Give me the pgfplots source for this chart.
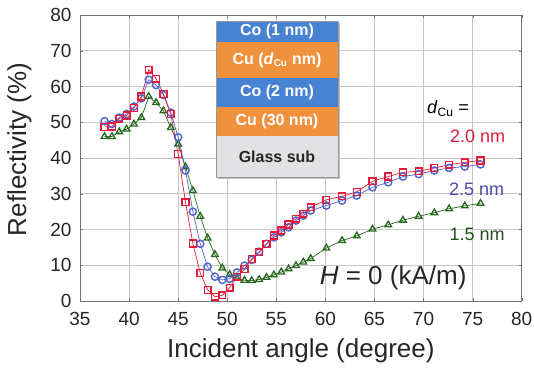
\documentclass[border=0pt]{standalone}
\usepackage{pgfplots}
\pgfplotsset{compat=1.18}
\usepackage{fontspec}
\setmainfont{Liberation Sans}
\definecolor{cred}{RGB}{228,28,58}
\definecolor{cblue}{RGB}{78,98,205}
\definecolor{cgreen}{RGB}{38,105,30}
\definecolor{tred}{RGB}{220,30,60}
\definecolor{tblue}{RGB}{80,72,170}
\definecolor{tgreen}{RGB}{35,80,30}
\definecolor{cob}{RGB}{72,130,210}
\definecolor{cuo}{RGB}{240,145,62}
\definecolor{glass}{RGB}{226,226,229}
\pgfplotstableread{
a R
37.5 48.7
38.25 48.8
39 51.0
39.75 51.9
40.5 54.0
41.25 57.2
42 64.7
42.75 62.2
43.5 57.9
44.25 52.3
45 41.1
45.75 27.6
46.5 16.1
47.25 7.8
48 3.1
48.75 1.2
49.5 1.6
50.25 3.7
51 6.8
51.75 8.9
52.5 11.8
53.25 13.6
54 16.0
54.75 18.3
55.5 19.7
56.25 21.4
57 23.0
57.75 24.4
58.5 26.2
60.1 28.3
61.7 29.3
63.2 30.5
64.8 33.5
66.4 34.8
67.9 36.0
69.5 36.3
71.1 37.2
72.6 38.1
74.2 38.8
75.8 39.3
}\tabred
\pgfplotstableread{
a R
37.5 50.3
38.25 49.5
39 51.3
39.75 52.3
40.5 54.4
41.25 56.7
42 61.9
42.75 60.4
43.5 57.6
44.25 52.7
45 45.8
45.75 36.5
46.5 25.0
47.25 16.0
48 9.6
48.75 6.8
49.5 5.9
50.25 6.2
51 8.0
51.75 9.9
52.5 11.5
53.25 13.8
54 16.0
54.75 17.8
55.5 19.2
56.25 20.6
57 22.5
57.75 23.9
58.5 25.3
60.1 26.7
61.7 28.1
63.2 29.5
64.8 31.8
66.4 33.2
67.9 34.8
69.5 35.5
71.1 36.5
72.6 37.2
74.2 37.6
75.8 38.2
}\tabblue
\pgfplotstableread{
a R
37.5 46.0
38.25 46.0
39 47.3
39.75 48.1
40.5 49.5
41.25 51.3
42 57.2
42.75 55.5
43.5 53.2
44.25 48.5
45 43.9
45.75 37.5
46.5 30.9
47.25 23.7
48 17.6
48.75 13.0
49.5 9.2
50.25 7.4
51 6.4
51.75 5.8
52.5 5.7
53.25 6.0
54 6.6
54.75 7.3
55.5 8.1
56.25 9.0
57 9.9
57.75 10.9
58.5 11.9
60.1 14.8
61.7 16.9
63.2 18.2
64.8 20.1
66.4 21.3
67.9 22.6
69.5 23.7
71.1 24.7
72.6 25.8
74.2 26.6
75.8 27.3
}\tabgreen
\begin{document}
\begin{tikzpicture}
\useasboundingbox (-80pt,-72pt) rectangle (454pt,301pt);
\begin{axis}[
  at={(0,0)}, anchor=south west,
  scale only axis, width=441.7pt, height=286pt,
  xmin=35, xmax=80, ymin=0, ymax=80,
  xtick={35,40,...,80}, ytick={0,10,...,80},
  grid=major,
  major grid style={draw=black!22, line width=0.6pt},
  axis line style={draw=black!55, line width=0.8pt},
  tick style={draw=black!55},
  tick align=inside, major tick length=3pt,
  /pgf/number format/assume math mode=true,
  ticklabel style={font=\fontsize{19}{22}\selectfont, text=black!85},
  xticklabel style={yshift=-8pt},
  yticklabel style={xshift=-5pt},
  clip=false,
]
% layer stack
\fill[black!25] (axis cs:49.06,34.2) rectangle (axis cs:61.49,77.8);
\fill[cob] (axis cs:48.86,72.4) rectangle (axis cs:61.29,78.3);
\fill[cuo] (axis cs:48.86,62.4) rectangle (axis cs:61.29,72.4);
\fill[cob] (axis cs:48.86,54.3) rectangle (axis cs:61.29,62.4);
\fill[cuo] (axis cs:48.86,46.2) rectangle (axis cs:61.29,54.3);
\fill[glass] (axis cs:48.86,34.7) rectangle (axis cs:61.29,46.2);
\draw[black!40, line width=0.8pt] (axis cs:48.86,34.7) rectangle (axis cs:61.29,78.3);
\node[white, font=\bfseries\fontsize{16}{18}\selectfont] at (axis cs:55.07,75.35) {Co (1 nm)};
\node[white, font=\bfseries\fontsize{16}{18}\selectfont] at (axis cs:55.07,67.4) {Cu (\textit{d}\textsubscript{\fontsize{10}{11}\selectfont Cu} nm)};
\node[white, font=\bfseries\fontsize{16}{18}\selectfont] at (axis cs:55.07,58.35) {Co (2 nm)};
\node[white, font=\bfseries\fontsize{16}{18}\selectfont] at (axis cs:55.07,50.25) {Cu (30 nm)};
\node[black!85, font=\bfseries\fontsize{16}{18}\selectfont] at (axis cs:55.07,40.45) {Glass sub};
% data
\addplot[cgreen, line width=0.7pt, mark=triangle, mark size=3.8pt, mark options={fill=white, line width=1.3pt}] table[x=a,y=R] {\tabgreen};
\addplot[cblue, line width=0.7pt, mark=o, mark size=3.6pt, mark options={fill=white, line width=1.4pt}] table[x=a,y=R] {\tabblue};
\addplot[cred, line width=0.7pt, mark=square, mark size=3.4pt, mark options={fill=white, line width=1.4pt}] table[x=a,y=R] {\tabred};
% annotations
\node[font=\fontsize{18}{20}\selectfont] at (axis cs:72.5,53.8) {\textit{d}\textsubscript{\fontsize{12}{13}\selectfont Cu} =};
\node[tred, font=\fontsize{18}{20}\selectfont] at (axis cs:75.5,46.2) {2.0 nm};
\node[tblue, font=\fontsize{18}{20}\selectfont] at (axis cs:75.4,31.2) {2.5 nm};
\node[tgreen, font=\fontsize{18}{20}\selectfont] at (axis cs:75.45,18.6) {1.5 nm};
\node[black!85, font=\fontsize{26}{30}\selectfont] at (axis cs:66.9,6.4) {\textit{H} = 0 (kA/m)};
\node[black!85, rotate=90, font=\fontsize{26}{30}\selectfont] at (axis description cs:-0.137,0.53) {Reflectivity (\%)};
\node[black!85, font=\fontsize{26}{30}\selectfont] at (axis description cs:0.5,-0.175) {Incident angle (degree)};
\end{axis}
\end{tikzpicture}
\end{document}
